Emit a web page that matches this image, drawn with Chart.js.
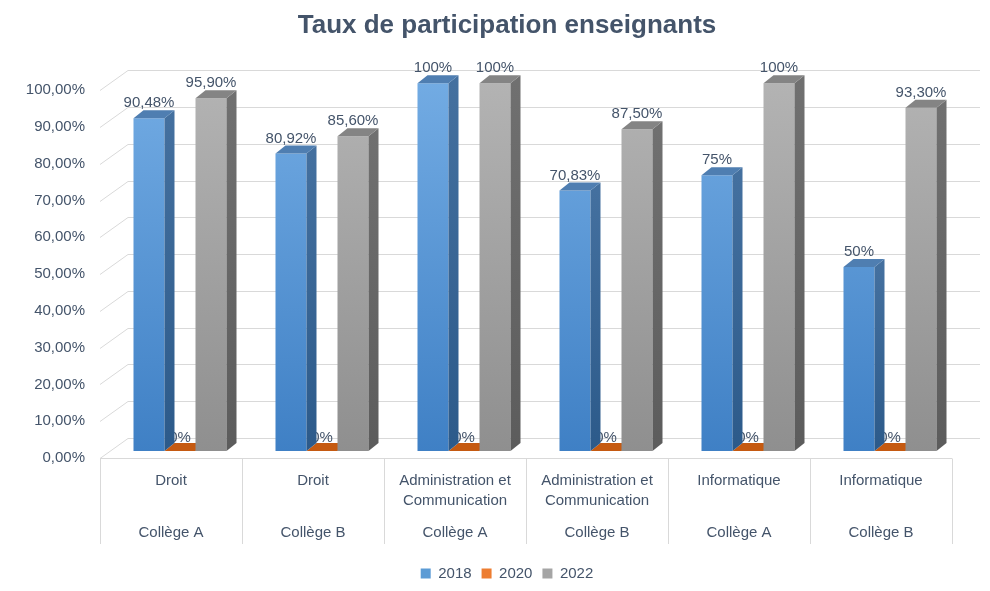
<!DOCTYPE html>
<html lang="fr">
<head>
<meta charset="utf-8">
<title>Taux de participation enseignants</title>
<script src="https://cdn.jsdelivr.net/npm/chart.js@4.4.1/dist/chart.umd.min.js"></script>
<style>
  html, body { margin: 0; padding: 0; background: #fff; }
  #wrap { width: 990px; height: 591px; }
</style>
</head>
<body>
<div id="wrap"><canvas id="js--chart"></canvas></div>
<script>
const filieres = [
    "Droit",
    "Droit",
    "Administration et Communication",
    "Administration et Communication",
    "Informatique",
    "Informatique"
];
const colleges = ["Collège A", "Collège B", "Collège A", "Collège B", "Collège A", "Collège B"];

const annees = ["2018", "2020", "2022"];
const taux2018 = [90.48, 80.92, 100, 70.83, 75, 50];
const taux2020 = [0, 0, 0, 0, 0, 0];
const taux2022 = [95.90, 85.60, 100, 87.50, 100, 93.30];

const yTicks = [0, 10, 20, 30, 40, 50, 60, 70, 80, 90, 100];

// look
const TEXT = "#44546a";
const GRID = "#d9d9d9";
const DX = 9, DY = -7;     // bar plane, from the front plane
const SX = 10, SY = -8;    // depth of one bar
const WX = 28, WY = -20;   // back wall

const looks = [
    { legend: "#5b9bd5", top: "#72abe3", bottom: "#3f80c5", sideTop: "#44709f", sideBottom: "#2c5a8a", cap: "#4f7eb1" },
    { legend: "#ed7d31", top: "#ed7d31", bottom: "#c55a11", sideTop: "#a9490c", sideBottom: "#a9490c", cap: "#c55a11" },
    { legend: "#a5a5a5", top: "#b3b3b3", bottom: "#8f8f8f", sideTop: "#707070", sideBottom: "#5c5c5c", cap: "#848484" }
];

function fmtTick(v) {
    return v.toFixed(2).replace(".", ",") + "%";
}
function fmtValue(v) {
    return Number.isInteger(v) ? v + "%" : v.toFixed(2).replace(".", ",") + "%";
}

function frontFill(i) {
    return (c) => {
        const a = c.chart.chartArea;
        if (!a) return looks[i].top;
        const g = c.chart.ctx.createLinearGradient(0, a.top, 0, a.bottom);
        g.addColorStop(0, looks[i].top);
        g.addColorStop(1, looks[i].bottom);
        return g;
    };
}

function wrapText(ctx, text, maxW) {
    const words = text.split(" ");
    const lines = [];
    let cur = "";
    words.forEach(w => {
        const t = cur ? cur + " " + w : w;
        if (cur && ctx.measureText(t).width > maxW) {
            lines.push(cur);
            cur = w;
        } else {
            cur = t;
        }
    });
    lines.push(cur);
    return lines;
}

const decor3d = {
    id: "decor3d",
    beforeDatasetsDraw(chart) {
        const { ctx, chartArea: a, scales: { x, y } } = chart;
        ctx.save();
        ctx.strokeStyle = GRID;
        ctx.lineWidth = 1;
        // back wall + left wall lines
        yTicks.forEach(t => {
            const py = Math.round(y.getPixelForValue(t)) + 0.5;
            ctx.beginPath();
            ctx.moveTo(a.left, py);
            ctx.lineTo(a.left + WX, py + WY);
            ctx.lineTo(a.right + WX, py + WY);
            ctx.stroke();
        });
        // table under the floor
        const step = x.getPixelForValue(1) - x.getPixelForValue(0);
        const yb = Math.round(a.bottom) + 0.5;
        ctx.beginPath();
        ctx.moveTo(a.left, yb);
        ctx.lineTo(a.right, yb);
        for (let i = 0; i <= filieres.length; i++) {
            const px = Math.round(x.getPixelForValue(i) - step / 2) + 0.5;
            ctx.moveTo(px, yb);
            ctx.lineTo(px, a.bottom + 86);
        }
        ctx.stroke();
        ctx.restore();

        ctx.save();
        ctx.translate(DX, DY);
        // zero bars: only their top face shows, and bars in front cover it
        chart.data.datasets.forEach((ds, di) => {
            chart.getDatasetMeta(di).data.forEach((bar, i) => {
                if (ds.data[i] !== 0) return;
                const l = bar.x - bar.width / 2, r = bar.x + bar.width / 2;
                ctx.fillStyle = looks[di].cap;
                ctx.beginPath();
                ctx.moveTo(l, bar.y);
                ctx.lineTo(r, bar.y);
                ctx.lineTo(r + SX, bar.y + SY);
                ctx.lineTo(l + SX, bar.y + SY);
                ctx.closePath();
                ctx.fill();
            });
        });
    },
    afterDatasetsDraw(chart) {
        const { ctx } = chart;
        // value labels
        ctx.font = "15px 'Liberation Sans'";
        ctx.fillStyle = TEXT;
        ctx.textAlign = "center";
        ctx.textBaseline = "middle";
        chart.data.datasets.forEach((ds, di) => {
            chart.getDatasetMeta(di).data.forEach((bar, i) => {
                ctx.fillText(fmtValue(ds.data[i]), bar.x, bar.y - (ds.data[i] === 0 ? 13 : 15));
            });
        });
        // side and top faces
        chart.data.datasets.forEach((ds, di) => {
            chart.getDatasetMeta(di).data.forEach((bar, i) => {
                if (ds.data[i] === 0) return;
                const l = bar.x - bar.width / 2, r = bar.x + bar.width / 2;
                const g = ctx.createLinearGradient(0, bar.y, 0, bar.base);
                g.addColorStop(0, looks[di].sideTop);
                g.addColorStop(1, looks[di].sideBottom);
                ctx.fillStyle = g;
                ctx.beginPath();
                ctx.moveTo(r, bar.y);
                ctx.lineTo(r + SX, bar.y + SY);
                ctx.lineTo(r + SX, bar.base + SY);
                ctx.lineTo(r, bar.base);
                ctx.closePath();
                ctx.fill();
                ctx.fillStyle = looks[di].cap;
                ctx.beginPath();
                ctx.moveTo(l, bar.y);
                ctx.lineTo(l + SX, bar.y + SY);
                ctx.lineTo(r + SX, bar.y + SY);
                ctx.lineTo(r, bar.y);
                ctx.closePath();
                ctx.fill();
            });
        });
        ctx.restore();
    },
    afterDraw(chart) {
        const { ctx, chartArea: a, scales: { x } } = chart;
        ctx.save();
        ctx.font = "15px 'Liberation Sans'";
        ctx.fillStyle = TEXT;
        ctx.textAlign = "center";
        ctx.textBaseline = "middle";
        filieres.forEach((f, i) => {
            const px = x.getPixelForValue(i);
            wrapText(ctx, f, 128).forEach((line, k) => {
                ctx.fillText(line, px, a.bottom + 23 + k * 20);
            });
            ctx.fillText(colleges[i], px, a.bottom + 75);
        });
        ctx.restore();
    }
};

const data = {
    labels: filieres.map((f, i) => f + " " + colleges[i]),
    datasets: [
        { label: annees[0], data: taux2018, backgroundColor: frontFill(0) },
        { label: annees[1], data: taux2020, backgroundColor: frontFill(1) },
        { label: annees[2], data: taux2022, backgroundColor: frontFill(2) }
    ]
};

const config = {
    type: "bar",
    data: data,
    options: {
        responsive: true,
        maintainAspectRatio: false,
        animation: false,
        layout: { padding: { left: 24, right: 0, top: 0, bottom: 0 } },
        datasets: {
            bar: { categoryPercentage: 0.655, barPercentage: 1, borderWidth: 0, clip: false }
        },
        scales: {
            x: {
                grid: { display: false, drawTicks: false },
                border: { display: false },
                ticks: { display: false },
                afterFit: (s) => { s.height = 98; }
            },
            y: {
                min: 0,
                max: 100,
                grid: { display: false, drawTicks: false },
                border: { display: false },
                afterBuildTicks: (s) => { s.ticks = yTicks.map(v => ({ value: v })); },
                afterFit: (s) => { s.width = 76; },
                ticks: {
                    padding: 15,
                    color: TEXT,
                    font: { size: 15 },
                    callback: (v) => fmtTick(v)
                }
            },
            // empty right margin, keeps title and legend centred like the original
            yRight: {
                position: "right",
                min: 0,
                max: 100,
                grid: { display: false, drawTicks: false },
                border: { display: false },
                ticks: { display: false },
                afterFit: (s) => { s.width = 38; }
            }
        },
        plugins: {
            title: {
                display: true,
                text: "Taux de participation enseignants",
                color: TEXT,
                font: { size: 26, weight: "bold" },
                padding: { top: 10, bottom: 49 }
            },
            legend: {
                position: "bottom",
                labels: {
                    color: TEXT,
                    font: { size: 15 },
                    boxWidth: 10,
                    boxHeight: 10,
                    padding: 10,
                    generateLabels: (chart) =>
                        Chart.defaults.plugins.legend.labels.generateLabels(chart).map((l, i) => ({
                            ...l, fillStyle: looks[i].legend, strokeStyle: looks[i].legend, lineWidth: 0
                        }))
                }
            },
            tooltip: { enabled: false }
        }
    },
    plugins: [decor3d]
};

Chart.defaults.font.family = "'Liberation Sans', Arial, sans-serif";
new Chart(document.getElementById("js--chart"), config);
</script>
</body>
</html>
